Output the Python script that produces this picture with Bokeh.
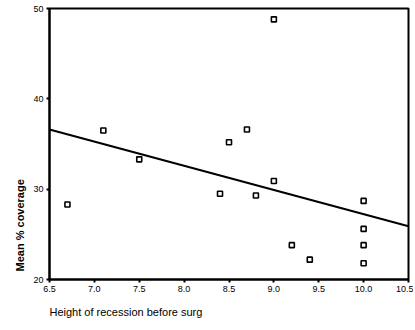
from bokeh.plotting import figure
from bokeh.models import Range1d, FixedTicker, Title, PrintfTickFormatter
from bokeh.embed import file_html
from bokeh.resources import INLINE

height_before = [6.7, 7.1, 7.5, 8.4, 8.5, 8.7, 8.8, 9.0, 9.0, 9.2, 9.4, 10.0, 10.0, 10.0, 10.0]
mean_coverage = [28.3, 36.5, 33.3, 29.5, 35.2, 36.6, 29.3, 48.8, 30.9, 23.8, 22.2, 28.7, 25.6, 23.8, 21.8]

fit_x = [6.5, 10.5]
fit_y = [36.6, 25.9]

x_ticks = [6.5, 7.0, 7.5, 8.0, 8.5, 9.0, 9.5, 10.0, 10.5]
y_ticks = [20, 30, 40, 50]

FONT = "Liberation Sans"

p = figure(width=413, height=326, output_backend="svg", toolbar_location=None,
           x_range=Range1d(6.5, 10.5), y_range=Range1d(20, 50),
           min_border_left=49, min_border_right=5, min_border_top=8, min_border_bottom=10)

p.xgrid.visible = False
p.ygrid.visible = False
p.outline_line_color = "black"
p.outline_line_width = 2
p.background_fill_color = "white"
p.border_fill_color = "white"

for ax in (p.xaxis[0], p.yaxis[0]):
    ax.axis_line_color = "black"
    ax.axis_line_width = 2
    ax.major_tick_line_color = "black"
    ax.major_tick_line_width = 2
    ax.major_tick_out = 3
    ax.major_tick_in = 0
    ax.minor_tick_line_color = None
    ax.major_label_text_font = FONT
    ax.major_label_text_font_size = "9px"
    ax.major_label_text_color = "black"
    ax.major_label_standoff = 3

p.xaxis[0].ticker = FixedTicker(ticks=x_ticks)
p.yaxis[0].ticker = FixedTicker(ticks=y_ticks)
p.xaxis[0].formatter = PrintfTickFormatter(format="%.1f")

p.line(fit_x, fit_y, line_color="black", line_width=2)
p.scatter(height_before, mean_coverage, marker="square", size=5,
          line_color="black", line_width=1.6, fill_color="white")

xt = Title(text="Height of recession before surg", align="left", offset=0,
           text_font=FONT, text_font_size="11px", text_font_style="normal",
           text_color="black", standoff=18)
p.add_layout(xt, "below")

yt = Title(text="Mean % coverage", align="left", offset=8,
           text_font=FONT, text_font_size="11px", text_font_style="bold",
           text_color="black", standoff=10)
p.add_layout(yt, "left")

open("out.html", "w").write(file_html(p, INLINE))
